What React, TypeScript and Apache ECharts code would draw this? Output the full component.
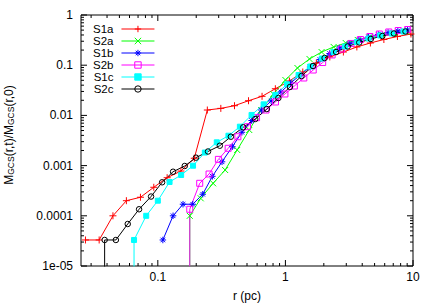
import React, { useEffect, useRef } from 'react';
import * as echarts from 'echarts';

const FONT = '"Liberation Sans", Arial, Helvetica, sans-serif';

const seriesNames = ['S1a', 'S2a', 'S1b', 'S2b', 'S1c', 'S2c'];
const seriesColors = ['#ff0000', '#00ff00', '#0000ff', '#ff00ff', '#00ffff', '#000000'];

// r (pc) and M_GCS(r,t)/M_GCS(r,0) for each run
const s1aR = [0.0271, 0.0347, 0.0445, 0.0567, 0.0731, 0.093, 0.1183, 0.1518, 0.1931, 0.2444, 0.3117, 0.399, 0.514, 0.656, 0.834, 1.075, 1.368, 1.748, 2.229, 2.847, 3.63, 4.635, 5.912, 7.55, 9.64];
const s1aM = [3.3e-5, 3.3e-5, 1.0e-4, 2.0e-4, 2.34e-4, 3.7e-4, 5.74e-4, 7.8e-4, 1.4e-3, 0.0128, 0.0138, 0.0156, 0.0196, 0.024, 0.034, 0.0484, 0.0732, 0.1106, 0.146, 0.183, 0.231, 0.277, 0.325, 0.373, 0.418];

const s2aR = [0.178, 0.2169, 0.2711, 0.337, 0.4188, 0.5206, 0.6471, 0.8044, 1.0, 1.243, 1.545, 1.921, 2.388, 2.968, 3.689, 4.586, 5.7, 7.086, 8.808];
const s2aM = [1.0e-4, 2.23e-4, 4.44e-4, 8.17e-4, 2.05e-3, 5.12e-3, 0.0128, 0.0267, 0.0507, 0.0879, 0.133, 0.183, 0.231, 0.277, 0.318, 0.365, 0.4, 0.438, 0.469];

const s1bR = [0.1095, 0.1317, 0.1576, 0.1879, 0.2249, 0.2677, 0.3186, 0.3839, 0.456, 0.5437, 0.6483, 0.7729, 0.9217, 1.099, 1.31, 1.562, 1.862, 2.221, 2.648, 3.157, 3.764, 4.487, 5.35, 6.378, 7.605, 9.069];
const s1bM = [3.3e-5, 1.0e-4, 1.7e-4, 1.7e-4, 2.69e-4, 6.12e-4, 1.19e-3, 2.38e-3, 4.61e-3, 7.91e-3, 0.0128, 0.0194, 0.0293, 0.0442, 0.0638, 0.0921, 0.13, 0.171, 0.22, 0.271, 0.318, 0.365, 0.409, 0.448, 0.48, 0.503];

const s2bR = [0.178, 0.213, 0.2521, 0.2984, 0.3558, 0.4241, 0.5049, 0.5943, 0.7047, 0.8356, 0.991, 1.175, 1.394, 1.652, 1.959, 2.323, 2.755, 3.267, 3.874, 4.594, 5.447, 6.459, 7.659, 9.085];
const s2bM = [1.35e-4, 4.44e-4, 6.8e-4, 1.33e-3, 2.21e-3, 3.76e-3, 5.96e-3, 9.0e-3, 0.0128, 0.0185, 0.0267, 0.0385, 0.0556, 0.0802, 0.113, 0.16, 0.21, 0.271, 0.325, 0.373, 0.418, 0.459, 0.491, 0.514];

const s1cR = [0.0651, 0.0811, 0.1, 0.1236, 0.1523, 0.1888, 0.2336, 0.2898, 0.3577, 0.4397, 0.5429, 0.6748, 0.834, 1.028, 1.268, 1.565, 1.931, 2.384, 2.941, 3.629, 4.479, 5.527, 6.823, 8.419];
const s1cM = [3.3e-5, 1.0e-4, 2.0e-4, 4.71e-4, 6.5e-4, 9.95e-4, 1.82e-3, 2.91e-3, 3.94e-3, 5.96e-3, 0.0102, 0.0166, 0.0255, 0.0417, 0.0638, 0.0942, 0.136, 0.183, 0.236, 0.29, 0.34, 0.391, 0.428, 0.469];

const s2cR = [0.0383, 0.0469, 0.0581, 0.0713, 0.0885, 0.1081, 0.1317, 0.1625, 0.1991, 0.2475, 0.3061, 0.3737, 0.467, 0.5806, 0.7148, 0.881, 1.085, 1.337, 1.646, 2.028, 2.498, 3.077, 3.791, 4.67, 5.753, 7.087, 8.73];
const s2cM = [3.3e-5, 3.3e-5, 6.87e-5, 1.35e-4, 2.42e-4, 4.65e-4, 7.55e-4, 9.82e-4, 1.44e-3, 1.91e-3, 2.49e-3, 3.76e-3, 5.79e-3, 8.48e-3, 0.0134, 0.0222, 0.0368, 0.0609, 0.0964, 0.139, 0.183, 0.236, 0.283, 0.333, 0.382, 0.428, 0.469];

// runs whose first bin is preceded by an empty (zero) bin: the line drops off the axis
const dropsToZero = [false, true, false, true, true, true];
const zeroStandIn = 1e-8;

const xTickLabels = ['0.1', '1', '10'];
const yTickLabels = ['1e-05', '0.0001', '0.001', '0.01', '0.1', '1'];
const xMin = 0.025;
const xMax = 10;
const yMin = 1e-5;
const yMax = 1;

const allR = [s1aR, s2aR, s1bR, s2bR, s1cR, s2cR];
const allM = [s1aM, s2aM, s1bM, s2bM, s1cM, s2cM];

const SYM = {
  plus: 'path://M0,5L10,5M5,0L5,10',
  cross: 'path://M0,0L10,10M0,10L10,0',
  star: 'path://M0,5L10,5M5,0L5,10M1.5,1.5L8.5,8.5M1.5,8.5L8.5,1.5',
  openSquare: 'path://M0,0L10,0L10,10L0,10Z',
  filledSquare: 'path://M0,0L10,0L10,10L0,10Z',
  openCircle: 'path://M0,5A5,5,0,1,0,10,5A5,5,0,1,0,0,5Z',
};
const symbols = [SYM.plus, SYM.cross, SYM.star, SYM.openSquare, SYM.filledSquare, SYM.openCircle];
const symbolSizes = [7, 6, 6.5, 6, 5, 5.5];
const solidFill = [false, false, false, false, true, false];

function labelFor(list: string[], v: number) {
  const hit = list.find((s) => Math.abs(Math.log10(Number(s)) - Math.log10(v)) < 1e-6);
  return hit ?? '';
}

function buildTicks() {
  const out: number[][] = [];
  for (let k = -2; k <= 1; k++) {
    for (let m = 1; m <= 9; m++) {
      const v = m * Math.pow(10, k);
      if (v >= xMin * 0.9999 && v <= xMax * 1.0001) out.push([v, 0.01, 0, m === 1 ? 1 : 0]);
    }
  }
  for (let k = -5; k <= 0; k++) {
    for (let m = 1; m <= 9; m++) {
      const v = m * Math.pow(10, k);
      if (v >= yMin * 0.9999 && v <= yMax * 1.0001) out.push([1, v, 1, m === 1 ? 1 : 0]);
    }
  }
  return out;
}

export default function App() {
  const ref = useRef<HTMLDivElement>(null);
  useEffect(() => {
    if (!ref.current) return;
    const chart = echarts.init(ref.current, undefined, { renderer: 'svg' });

    const markerStyle = (i: number) => ({
      color: solidFill[i] ? seriesColors[i] : 'rgba(0,0,0,0)',
      borderColor: seriesColors[i],
      borderWidth: 1,
    });

    const lineSeries = seriesNames.map((name, i) => {
      const pts: any[] = allR[i].map((r, j) => [r, allM[i][j]]);
      if (dropsToZero[i]) pts.unshift({ value: [allR[i][0], zeroStandIn], symbol: 'none' });
      return {
        name,
        type: 'line',
        data: pts,
        symbol: symbols[i],
        symbolSize: symbolSizes[i],
        showSymbol: true,
        showAllSymbol: true,
        clip: true,
        z: 3,
        lineStyle: { color: seriesColors[i], width: 1 },
        itemStyle: markerStyle(i),
        emphasis: { disabled: true },
      };
    });

    const tickSeries = {
      type: 'custom',
      silent: true,
      z: 2,
      data: buildTicks(),
      renderItem: (params: any, api: any) => {
        const kind = api.value(2);
        const major = api.value(3);
        const pt = api.coord([api.value(0), api.value(1)]);
        const cs = params.coordSys;
        const len = major ? 6 : 3;
        const st = { stroke: '#000', lineWidth: 1 };
        if (kind === 0) {
          const x = pt[0];
          return {
            type: 'group',
            children: [
              { type: 'line', shape: { x1: x, y1: cs.y + cs.height, x2: x, y2: cs.y + cs.height - len }, style: st },
              { type: 'line', shape: { x1: x, y1: cs.y, x2: x, y2: cs.y + len }, style: st },
            ],
          };
        }
        const y = pt[1];
        return {
          type: 'group',
          children: [
            { type: 'line', shape: { x1: cs.x, y1: y, x2: cs.x + len, y2: y }, style: st },
            { type: 'line', shape: { x1: cs.x + cs.width, y1: y, x2: cs.x + cs.width - len, y2: y }, style: st },
          ],
        };
      },
    };

    chart.setOption({
      animation: false,
      backgroundColor: '#fff',
      textStyle: { fontFamily: FONT },
      grid: { left: 81, top: 15, right: 23, bottom: 39, show: true, borderColor: '#000', borderWidth: 1, backgroundColor: 'transparent' },
      legend: {
        data: seriesNames.map((name, i) => ({
          name,
          itemStyle: markerStyle(i),
          lineStyle: { color: seriesColors[i], width: 1 },
        })),
        orient: 'vertical',
        left: 88,
        top: 18,
        align: 'right',
        itemWidth: 33,
        itemHeight: 8,
        itemGap: 0,
        selectedMode: false,
        lineStyle: { width: 1 },
        textStyle: { fontFamily: FONT, fontSize: 11.5, color: '#000', lineHeight: 12, padding: [0, 3, 0, 0] },
      },
      xAxis: {
        type: 'log',
        logBase: 10,
        min: xMin,
        max: xMax,
        axisLine: { show: false },
        axisTick: { show: false },
        splitLine: { show: false },
        axisLabel: {
          margin: 5,
          fontSize: 12,
          fontFamily: FONT,
          color: '#000',
          formatter: (v: number) => labelFor(xTickLabels, v),
        },
      },
      yAxis: {
        type: 'log',
        logBase: 10,
        min: yMin,
        max: yMax,
        axisLine: { show: false },
        axisTick: { show: false },
        splitLine: { show: false },
        axisLabel: {
          margin: 8,
          fontSize: 12,
          fontFamily: FONT,
          color: '#000',
          formatter: (v: number) => labelFor(yTickLabels, v),
        },
      },
      graphic: [
        {
          type: 'text',
          x: 247,
          y: 296,
          style: { text: 'r (pc)', font: `12px ${FONT}`, fill: '#000', align: 'center', verticalAlign: 'middle' },
        },
        {
          type: 'text',
          x: 7,
          y: 135,
          rotation: Math.PI / 2,
          style: {
            text: '{m|M}{s|GCS}{m|(r,t)/M}{s|GCS}{m|(r,0)}',
            align: 'center',
            verticalAlign: 'middle',
            fill: '#000',
            rich: {
              m: { fontSize: 12, fontFamily: FONT, lineHeight: 16, verticalAlign: 'bottom', fill: '#000' },
              s: { fontSize: 8.5, fontFamily: FONT, lineHeight: 9, verticalAlign: 'bottom', fill: '#000' },
            },
          },
        },
      ],
      series: [tickSeries, ...lineSeries],
    });
    return () => chart.dispose();
  }, []);
  return <div ref={ref} style={{ position: 'fixed', left: 0, top: 0, width: 436, height: 305 }} />;
}
